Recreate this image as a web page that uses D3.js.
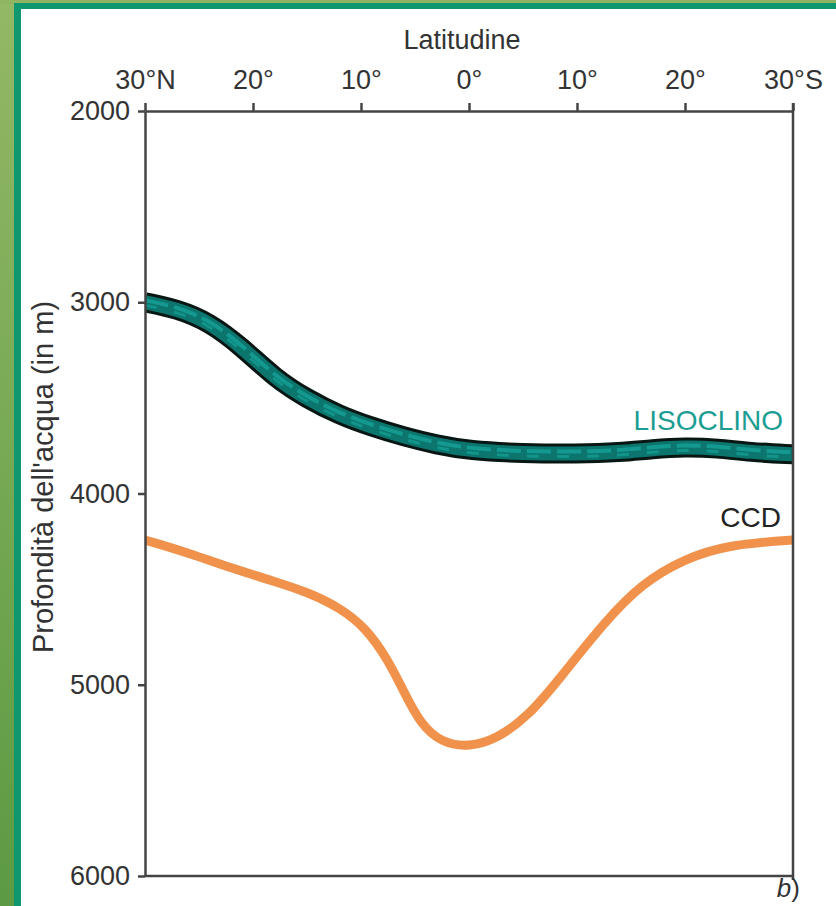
<!DOCTYPE html>
<html>
<head>
<meta charset="utf-8">
<script src="https://cdn.jsdelivr.net/npm/d3@7"></script>
<style>
  html, body { margin: 0; padding: 0; background: #fff; }
  svg text { font-family: "Liberation Sans", Arial, sans-serif; }
</style>
</head>
<body>
<div id="chart"></div>
<script>
// latitude ticks (N positive, S negative)
var latTicks = [30, 20, 10, 0, -10, -20, -30];
var latLabels = ["30°N", "20°", "10°", "0°", "10°", "20°", "30°S"];
var depthTicks = [2000, 3000, 4000, 5000, 6000];

// lisoclino
var lisoLat =   [30, 27, 24, 21, 18, 15, 12, 9, 6, 3, 0, -5, -10, -14, -17, -20, -23, -26, -30];
var lisoDepth = [3000, 3035, 3105, 3235, 3395, 3505, 3590, 3652, 3703, 3745, 3775, 3790, 3793, 3785, 3767, 3757, 3763, 3784, 3795];

// CCD
var ccdLat =   [30, 26, 22, 18, 15, 12, 9.5, 7.5, 6, 4.5, 2.5, 0, -2.5, -5.5, -8.5, -12.5, -16, -20, -24, -30];
var ccdDepth = [4243, 4310, 4390, 4460, 4515, 4595, 4705, 4870, 5040, 5205, 5305, 5325, 5285, 5165, 4960, 4675, 4470, 4340, 4268, 4243];

var W = 836, H = 906;

var svg = d3.select("#chart")
    .append("svg")
    .attr("width", W)
    .attr("height", H);

// green frame on the left and top
var defs = svg.append("defs");
var grad = defs.append("linearGradient")
    .attr("id", "olive")
    .attr("x1", 0).attr("y1", 0).attr("x2", 0).attr("y2", 1);
grad.append("stop").attr("offset", "0%").attr("stop-color", "#93b866");
grad.append("stop").attr("offset", "100%").attr("stop-color", "#5c9a43");

svg.append("rect").attr("x", 0).attr("y", 0).attr("width", 15).attr("height", H).attr("fill", "url(#olive)");
svg.append("rect").attr("x", 0).attr("y", 0).attr("width", W).attr("height", 4).attr("fill", "#8fb462");
svg.append("rect").attr("x", 14).attr("y", 3).attr("width", 7).attr("height", H).attr("fill", "#0f9870");
svg.append("rect").attr("x", 14).attr("y", 3).attr("width", W).attr("height", 6).attr("fill", "#0f9870");

var x = d3.scaleLinear().domain([30, -30]).range([145, 793]);
var y = d3.scaleLinear().domain([2000, 6000]).range([111, 876]);

var g = svg.append("g");

// clip for the curves
defs.append("clipPath").attr("id", "plot")
    .append("rect")
    .attr("x", x(30)).attr("y", y(2000))
    .attr("width", x(-30) - x(30)).attr("height", y(6000) - y(2000));

var line = d3.line()
    .x(function (d) { return x(d[0]); })
    .y(function (d) { return y(d[1]); })
    .curve(d3.curveBasis);

var ccd = ccdLat.map(function (d, i) { return [d, ccdDepth[i]]; });
var liso = lisoLat.map(function (d, i) { return [d, lisoDepth[i]]; });

var curves = g.append("g").attr("clip-path", "url(#plot)");

// CCD line
curves.append("path")
    .attr("d", line(ccd))
    .attr("fill", "none")
    .attr("stroke", "#f0924c")
    .attr("stroke-width", 9);

// lisoclino: black outline, teal fill, lighter streaks
curves.append("path")
    .attr("d", line(liso))
    .attr("fill", "none")
    .attr("stroke", "#081614")
    .attr("stroke-width", 20);
curves.append("path")
    .attr("d", line(liso))
    .attr("fill", "none")
    .attr("stroke", "#0b756e")
    .attr("stroke-width", 14);
curves.append("path")
    .attr("d", line(liso))
    .attr("fill", "none")
    .attr("stroke", "#13998f")
    .attr("stroke-width", 4)
    .attr("stroke-dasharray", "24 6")
    .attr("transform", "translate(0,-2)");
curves.append("path")
    .attr("d", line(liso))
    .attr("fill", "none")
    .attr("stroke", "#11958b")
    .attr("stroke-width", 3)
    .attr("stroke-dasharray", "12 18")
    .attr("transform", "translate(0,3)");

// axes
var xAxis = g.append("g")
    .attr("transform", "translate(0," + y(2000) + ")")
    .call(d3.axisTop(x)
        .tickValues(latTicks)
        .tickFormat(function (d, i) { return latLabels[i]; })
        .tickSize(8)
        .tickSizeOuter(0)
        .tickPadding(14));

var yAxis = g.append("g")
    .attr("transform", "translate(" + x(30) + ",0)")
    .call(d3.axisLeft(y)
        .tickValues(depthTicks)
        .tickFormat(d3.format("d"))
        .tickSize(7)
        .tickSizeOuter(0)
        .tickPadding(8));

[xAxis, yAxis].forEach(function (a) {
    a.selectAll("path, line").attr("stroke", "#444").attr("stroke-width", 2.5);
    a.selectAll("text")
        .attr("fill", "#333")
        .style("font-size", "27px");
});

// bottom and right frame lines
g.append("line")
    .attr("x1", x(30)).attr("x2", x(-30))
    .attr("y1", y(6000)).attr("y2", y(6000))
    .attr("stroke", "#444").attr("stroke-width", 2.5);
g.append("line")
    .attr("x1", x(-30)).attr("x2", x(-30))
    .attr("y1", y(2000) - 8).attr("y2", y(6000) + 4)
    .attr("stroke", "#444").attr("stroke-width", 2.5);

// titles
svg.append("text")
    .attr("x", 462).attr("y", 49)
    .attr("text-anchor", "middle")
    .attr("fill", "#333")
    .style("font-size", "27px")
    .text("Latitudine");

svg.append("text")
    .attr("transform", "translate(53,477) rotate(-90)")
    .attr("text-anchor", "middle")
    .attr("fill", "#333")
    .style("font-size", "29px")
    .text("Profondità dell'acqua (in m)");

svg.append("text")
    .attr("x", 783).attr("y", 430)
    .attr("text-anchor", "end")
    .attr("fill", "#1b9d93")
    .style("font-size", "28px")
    .text("LISOCLINO");

svg.append("text")
    .attr("x", 781).attr("y", 527)
    .attr("text-anchor", "end")
    .attr("fill", "#222")
    .style("font-size", "28px")
    .text("CCD");

var b = svg.append("text")
    .attr("x", 800).attr("y", 897)
    .attr("text-anchor", "end")
    .attr("fill", "#333")
    .style("font-size", "26px");
b.append("tspan").style("font-style", "italic").text("b");
b.append("tspan").text(")");
</script>
</body>
</html>
